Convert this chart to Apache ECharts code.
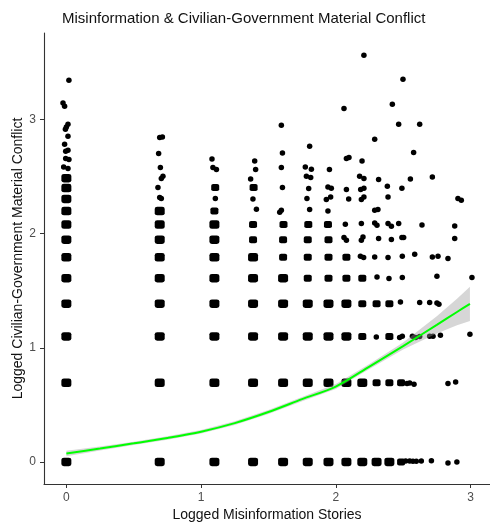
<!DOCTYPE html>
<html>
<head>
<meta charset="utf-8">
<script src="https://cdn.jsdelivr.net/npm/echarts@6/dist/echarts.min.js"></script>
<style>
  html, body { margin: 0; padding: 0; background: #fff; }
  #chart { width: 490px; height: 527px; }
</style>
</head>
<body>
<div id="chart"></div>
<script>
const FONT = '"Liberation Sans", Arial, sans-serif'

const xTicks = [0, 1, 2, 3]
const yTicks = [0, 1, 2, 3]

// cells where many observations pile up (big blobs)
const heavyPts = [
  [0, 0], [0, 0.693], [0, 1.099], [0, 1.386], [0, 1.609], [0, 1.792], [0, 1.946], [0, 2.079], [0, 2.197], [0, 2.303], [0, 2.398], [0, 2.485],
  [0.693, 0], [0.693, 0.693], [0.693, 1.099], [0.693, 1.386], [0.693, 1.609], [0.693, 1.792], [0.693, 1.946], [0.693, 2.079], [0.693, 2.197],
  [1.099, 0], [1.099, 0.693], [1.099, 1.099], [1.099, 1.386], [1.099, 1.609], [1.099, 1.792], [1.099, 1.946], [1.099, 2.079],
  [1.386, 0], [1.386, 0.693], [1.386, 1.099], [1.386, 1.386], [1.386, 1.609], [1.386, 1.792],
  [1.609, 0], [1.609, 0.693], [1.609, 1.099], [1.609, 1.386], [1.609, 1.609],
  [1.792, 0], [1.792, 0.693], [1.792, 1.099], [1.792, 1.386],
  [1.946, 0], [1.946, 0.693], [1.946, 1.099], [1.946, 1.386],
  [2.079, 0], [2.079, 0.693], [2.079, 1.099], [2.079, 1.386],
  [2.197, 0], [2.197, 0.693],
  [2.303, 0],
  [2.398, 0]
]

// cells with a few overlapping observations
const mediumPts = [
  [1.099, 2.197], [1.105, 2.403],
  [1.386, 1.946], [1.386, 2.079], [1.39, 2.403],
  [1.609, 1.792], [1.609, 1.946], [1.612, 2.079],
  [1.792, 1.609], [1.792, 1.792], [1.792, 1.946], [1.796, 2.079],
  [1.946, 1.609], [1.946, 1.792], [1.946, 1.946], [1.942, 2.079],
  [2.079, 1.609], [2.079, 1.792],
  [2.197, 1.099], [2.197, 1.386], [2.197, 1.609],
  [2.303, 0.693], [2.303, 1.386],
  [2.398, 0.693], [2.398, 1.099], [2.398, 1.386],
  [2.485, 0], [2.485, 0.693]
]

// single (jittered) observations
const dotPts = [
  [0.019, 3.342], [-0.025, 3.144], [-0.013, 3.115], [0.012, 2.957], [0, 2.933], [-0.007, 2.913], [0.012, 2.852],
  [-0.013, 2.782], [0.012, 2.729], [-0.005, 2.721], [-0.005, 2.657], [0.019, 2.648], [-0.02, 2.583], [0.012, 2.569],
  [0.693, 2.841], [0.713, 2.846], [0.685, 2.7], [0.698, 2.578], [0.717, 2.502], [0.705, 2.482], [0.68, 2.403],
  [0.693, 2.315], [0.705, 2.306],
  [1.081, 2.653], [1.088, 2.578], [1.114, 2.56], [1.106, 2.306],
  [1.398, 2.636], [1.405, 2.56], [1.368, 2.478], [1.385, 2.303], [1.411, 2.213],
  [1.596, 2.948], [1.604, 2.706], [1.596, 2.578], [1.604, 2.403], [1.596, 2.204], [1.584, 2.187],
  [1.806, 2.764], [1.774, 2.583], [1.819, 2.563], [1.782, 2.502], [1.814, 2.49], [1.799, 2.394], [1.786, 2.306], [1.806, 2.21],
  [1.953, 2.56], [1.942, 2.408], [1.967, 2.397], [1.93, 2.298], [1.962, 2.32], [1.942, 2.198],
  [2.061, 3.095], [2.079, 2.657], [2.098, 2.666], [2.079, 2.385], [2.096, 2.303], [2.071, 2.081], [2.061, 1.965], [2.079, 1.941],
  [2.209, 3.561], [2.195, 2.636], [2.177, 2.502], [2.209, 2.482], [2.185, 2.385], [2.209, 2.397], [2.19, 2.298], [2.209, 2.32],
  [2.19, 2.088], [2.19, 1.941], [2.202, 1.97], [2.183, 1.801], [2.207, 1.79],
  [2.289, 2.826], [2.318, 2.473], [2.289, 2.204], [2.313, 2.21], [2.289, 2.093], [2.306, 2.073], [2.318, 1.956],
  [2.289, 1.795], [2.306, 1.62], [2.301, 1.095],
  [2.42, 3.132], [2.383, 2.414], [2.388, 2.32], [2.388, 2.088], [2.413, 2.064], [2.413, 1.947], [2.388, 1.79], [2.395, 1.606],
  [2.499, 3.351], [2.467, 2.957], [2.491, 2.397], [2.467, 2.088], [2.491, 1.965], [2.504, 1.965], [2.494, 1.801],
  [2.494, 1.615], [2.48, 1.401], [2.474, 1.089], [2.494, 1.101],
  [2.578, 2.709], [2.554, 2.478], [2.586, 1.819], [2.569, 1.101], [2.593, 1.089], [2.529, 0.687], [2.549, 0.692],
  [2.581, 0.68], [2.519, 0.008], [2.549, 0.008],
  [2.623, 2.957], [2.64, 2.075], [2.623, 1.396], [2.623, 1.099], [2.573, 0.006], [2.598, 0.006], [2.635, 0.009],
  [2.717, 2.496], [2.717, 1.795], [2.697, 1.396], [2.697, 1.101], [2.722, 1.101], [2.71, 0.011],
  [2.759, 1.801], [2.751, 1.626], [2.751, 1.392], [2.766, 1.381], [2.777, 1.109],
  [2.833, 1.781], [2.833, 0.687], [2.833, -0.009],
  [2.907, 2.306], [2.883, 2.067], [2.883, 1.956], [2.89, 0.701], [2.899, 0],
  [2.932, 2.292],
  [2.996, 1.118], [3.011, 1.615]
]

// loess fit and its confidence band
const smoothX = [0, 0.25, 0.5, 0.75, 1.0, 1.25, 1.5, 1.75, 2.0, 2.25, 2.5, 2.75, 2.9, 2.996]
const smoothY = [0.074, 0.118, 0.163, 0.21, 0.265, 0.34, 0.437, 0.55, 0.66, 0.835, 1.015, 1.2, 1.313, 1.385]
const bandLo = [0.05, 0.1, 0.148, 0.195, 0.25, 0.324, 0.42, 0.531, 0.638, 0.813, 0.985, 1.125, 1.198, 1.235]
const bandHi = [0.098, 0.136, 0.178, 0.225, 0.28, 0.356, 0.454, 0.569, 0.682, 0.857, 1.045, 1.275, 1.428, 1.535]

const chart = echarts.init(document.getElementById('chart'), null, { renderer: 'canvas' })

const axisCommon = {
  type: 'value',
  splitLine: { show: false },
  axisLine: { show: true, onZero: false, lineStyle: { color: '#333', width: 1.1 } },
  nameLocation: 'middle',
  nameMoveOverlap: false,
  nameTextStyle: { color: '#111', fontSize: 14, fontFamily: FONT }
}

const dotStyle = { color: '#000', opacity: 1 }

chart.setOption({
  animation: false,
  backgroundColor: '#fff',
  title: {
    text: 'Misinformation & Civilian-Government Material Conflict',
    left: 62,
    top: 11,
    padding: 0,
    textStyle: { color: '#111', fontSize: 15, fontWeight: 'normal', fontFamily: FONT }
  },
  grid: { left: 44, right: 0, top: 33, bottom: 43, containLabel: false, outerBoundsMode: 'none' },
  xAxis: {
    ...axisCommon,
    min: -0.166,
    max: 3.145,
    axisTick: { show: true, length: 4, lineStyle: { color: '#333' }, customValues: xTicks },
    axisLabel: { customValues: xTicks, color: '#4d4d4d', fontSize: 12, margin: 8, fontFamily: FONT },
    name: 'Logged Misinformation Stories',
    nameGap: 24
  },
  yAxis: {
    ...axisCommon,
    min: -0.193,
    max: 3.756,
    axisTick: { show: true, length: 4, lineStyle: { color: '#333' }, customValues: yTicks },
    axisLabel: { customValues: yTicks, color: '#4d4d4d', fontSize: 12, margin: 8, fontFamily: FONT },
    name: 'Logged Civilian-Government Material Conflict',
    nameGap: 19
  },
  series: [
    {
      type: 'scatter',
      data: heavyPts,
      symbol: 'roundRect',
      symbolSize: [10, 8.5],
      itemStyle: dotStyle,
      silent: true,
      z: 2
    },
    {
      type: 'scatter',
      data: mediumPts,
      symbol: 'roundRect',
      symbolSize: [8, 7],
      itemStyle: dotStyle,
      silent: true,
      z: 2
    },
    {
      type: 'scatter',
      data: dotPts,
      symbol: 'circle',
      symbolSize: 5.5,
      itemStyle: dotStyle,
      silent: true,
      z: 2
    },
    {
      type: 'custom',
      data: [[0, 0]],
      silent: true,
      z: 3,
      renderItem: (params, api) => {
        const pts = []
        smoothX.forEach((x, i) => pts.push(api.coord([x, bandHi[i]])))
        for (let i = smoothX.length - 1; i >= 0; i--) pts.push(api.coord([smoothX[i], bandLo[i]]))
        return {
          type: 'polygon',
          shape: { points: pts },
          style: { fill: 'rgba(153,153,153,0.4)' }
        }
      }
    },
    {
      type: 'line',
      data: smoothX.map((x, i) => [x, smoothY[i]]),
      showSymbol: false,
      smooth: 0.3,
      lineStyle: { color: '#00ff00', width: 2 },
      silent: true,
      z: 4
    }
  ]
})
</script>
</body>
</html>
